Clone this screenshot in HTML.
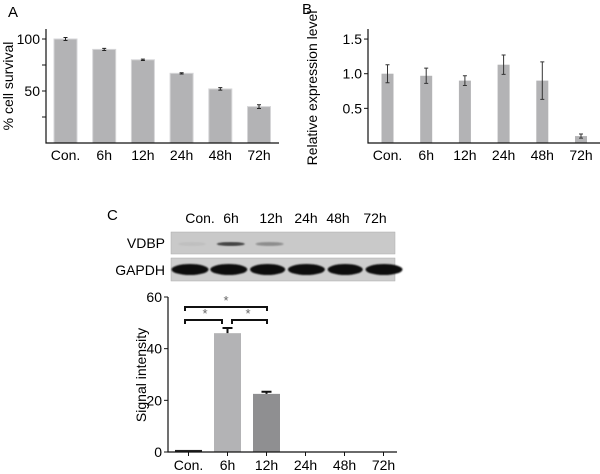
<!DOCTYPE html>
<html><head><meta charset="utf-8"><style>
body{margin:0;background:#fff;}
svg{display:block;font-family:"Liberation Sans",Arial,sans-serif;}
</style></head><body>
<svg id="s" width="600" height="474" viewBox="0 0 600 474">
<defs>
<filter id="blur1"><feGaussianBlur stdDeviation="0.9"/></filter>
</defs>
<text x="8" y="17" font-size="15">A</text>
<text x="302" y="14" font-size="15">B</text>
<text x="107" y="220" font-size="15">C</text>
<g id="gA"></g>
<g id="gB"></g>
<g id="gBlot">
<rect x="171" y="232" width="224" height="22" fill="#c9c9c9" stroke="#aaa" stroke-width="0.5"/>
<rect x="171" y="258" width="224" height="23" fill="#cdcdcd" stroke="#aaa" stroke-width="0.5"/>
<text x="165" y="248" font-size="14" text-anchor="end">VDBP</text>
<text x="165" y="275" font-size="14" text-anchor="end">GAPDH</text>
</g>
<g id="gC"></g>
</svg>
<script>
const NS="http://www.w3.org/2000/svg";
function mk(p,t,a,txt){const e=document.createElementNS(NS,t);for(const k in a)e.setAttribute(k,a[k]);if(txt!==undefined)e.textContent=txt;p.appendChild(e);return e;}
const cats=["Con.","6h","12h","24h","48h","72h"];
const survival=[100,90,80,67,52,35];
const survivalErr=[1.5,1,0.7,0.6,1.2,1.8];
const survivalTicks=[25,50,75,100];
const survivalTickLabels=["","50","","100"];
const expr=[1.0,0.97,0.9,1.13,0.9,0.1];
const exprErr=[0.13,0.11,0.07,0.14,0.27,0.03];
const exprTicks=[0.5,1.0,1.5];
const exprTickLabels=["0.5","1.0","1.5"];
const signal=[0.8,46,22.5,0,0,0];
const signalErr=[0,2,0.8,0,0,0];
const signalTicks=[0,20,40,60];
const signalTickLabels=["0","20","40","60"];
const signalColors=["#222","#b3b3b5","#8f8f91","#888","#888","#888"];
const gapdhBand=[1,1,0.95,1,0.95,1];
const vdbpBand=[0.05,0.8,0.35,0,0,0];

// Panel A
(function(){
const g=document.getElementById('gA');
const x0=46,x1=279,base=143,top=29,xs=v=>base-v*(104/100);
const cx=i=>65.5+i*38.7;
cats.forEach((c,i)=>{
 const r=mk(g,'rect',{x:cx(i)-11.5,y:xs(survival[i]),width:23,height:base-xs(survival[i]),fill:'#b3b3b5',stroke:'#d6d6d8','stroke-width':1});
 
 
 const e1=xs(survival[i]+survivalErr[i]),e2=xs(survival[i]-survivalErr[i]);
 mk(g,'path',{d:`M${cx(i)} ${e1}V${e2}M${cx(i)-2} ${e1}H${cx(i)+2}M${cx(i)-2} ${e2}H${cx(i)+2}`,stroke:'#222','stroke-width':1,fill:'none'});
 const t=mk(g,'text',{x:cx(i),y:160,'font-size':14,'text-anchor':'middle'},c);
 
 
});
mk(g,'path',{d:`M${x0} ${top}V${base}H${x1}`,stroke:'#111','stroke-width':1.2,fill:'none'});
survivalTicks.forEach((v,i)=>{
 mk(g,'line',{x1:x0-4,x2:x0,y1:xs(v),y2:xs(v),stroke:'#111'});
 const t=mk(g,'text',{x:x0-6,y:xs(v)+5,'font-size':14,'text-anchor':'end'},survivalTickLabels[i]);
 
 
});
const yt=mk(g,'text',{x:0,y:0,'font-size':14,'text-anchor':'middle',transform:'translate(13,86) rotate(-90)'},'% cell survival');


})();

// Panel B
(function(){
const g=document.getElementById('gB');
const x0=368,x1=600,base=143,top=29,ys=v=>base-v*(69.3);
const cx=i=>387.5+i*38.7;
cats.forEach((c,i)=>{
 const r=mk(g,'rect',{x:cx(i)-6,y:ys(expr[i]),width:12,height:base-ys(expr[i]),fill:'#b3b3b5'});
 
 
 const e1=ys(expr[i]+exprErr[i]),e2=ys(expr[i]-exprErr[i]);
 mk(g,'path',{d:`M${cx(i)} ${e1}V${e2}M${cx(i)-2} ${e1}H${cx(i)+2}M${cx(i)-2} ${e2}H${cx(i)+2}`,stroke:'#333','stroke-width':1,fill:'none'});
 const t=mk(g,'text',{x:cx(i),y:160,'font-size':14,'text-anchor':'middle'},c);
 
 
});
mk(g,'path',{d:`M${x0} ${top}V${base}H${x1}`,stroke:'#111','stroke-width':1.2,fill:'none'});
exprTicks.forEach((v,i)=>{
 mk(g,'line',{x1:x0-4,x2:x0,y1:ys(v),y2:ys(v),stroke:'#111'});
 const t=mk(g,'text',{x:x0-6,y:ys(v)+5,'font-size':14,'text-anchor':'end'},exprTickLabels[i]);
 
 
});
const yt=mk(g,'text',{x:0,y:0,'font-size':14,'text-anchor':'middle',transform:'translate(317,88) rotate(-90)'},'Relative expression level');


})();

// Blot
(function(){
const g=document.getElementById('gBlot');
const lx=[200,231,271,306,338,375];
const bx=i=>190+i*38.8;
cats.forEach((c,i)=>{
 const t=mk(g,'text',{x:lx[i],y:223,'font-size':14,'text-anchor':'middle'},c);
 
 
 const b=mk(g,'ellipse',{cx:bx(i),cy:269.5,rx:18.5*gapdhBand[i],ry:5.5,fill:'#111',filter:'url(#blur1)'});
 
 
 if(vdbpBand[i]>0){
 const v=mk(g,'ellipse',{cx:bx(i)+2,cy:244,rx:14,ry:2,fill:'#222','fill-opacity':vdbpBand[i],filter:'url(#blur1)'});
 
 
 }
});
})();

// Panel C
(function(){
const g=document.getElementById('gC');
const x0=168,x1=397,base=452,top=297,ys=v=>base-v*(155/60);
const cx=i=>188.5+i*39;
cats.forEach((c,i)=>{
 if(signal[i]>0){
 const r=mk(g,'rect',{x:cx(i)-13.5,y:ys(signal[i]),width:27,height:base-ys(signal[i]),fill:signalColors[i]});
 
 
 }
 if(signalErr[i]>0){
 const e1=ys(signal[i]+signalErr[i]),yv=ys(signal[i]);
 mk(g,'path',{d:`M${cx(i)} ${e1}V${yv}M${cx(i)-5} ${e1}H${cx(i)+5}`,stroke:'#111','stroke-width':2,fill:'none'});
 }
 mk(g,'line',{x1:cx(i),x2:cx(i),y1:base,y2:base+4,stroke:'#111'});
 const t=mk(g,'text',{x:cx(i),y:470,'font-size':14,'text-anchor':'middle'},c);
 
 
});
mk(g,'path',{d:`M${x0} ${top}V${base}H${x1}`,stroke:'#111','stroke-width':1.2,fill:'none'});
signalTicks.forEach((v,i)=>{
 mk(g,'line',{x1:x0-4,x2:x0,y1:ys(v),y2:ys(v),stroke:'#111'});
 const t=mk(g,'text',{x:x0-6,y:ys(v)+5,'font-size':14,'text-anchor':'end'},signalTickLabels[i]);
 
 
});
const yt=mk(g,'text',{x:0,y:0,'font-size':14,'text-anchor':'middle',transform:'translate(146,375) rotate(-90)'},'Signal intensity');


const br=(a,b,y)=>mk(g,'path',{d:`M${a} ${y+4}V${y}H${b}V${y+4}`,stroke:'#111','stroke-width':2,fill:'none'});
br(185,267,307);br(185,222,320);br(232,267,320);
[[226,305],[205,318],[248,318]].forEach(p=>{
 const s=mk(g,'text',{x:p[0],y:p[1],'font-size':13,'text-anchor':'middle',fill:'#666'},'*');
 
 
});
})();
</script>
</body></html>
